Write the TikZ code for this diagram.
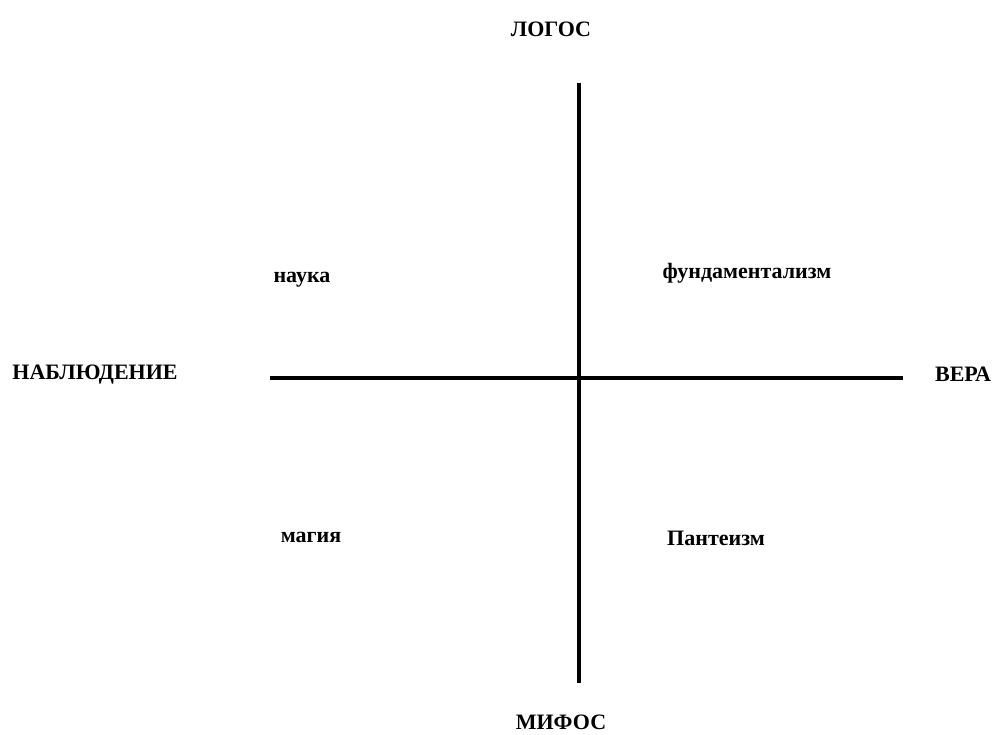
\documentclass[tikz,border=0pt]{standalone}
\usepackage{fontspec}
\setmainfont{Liberation Serif}
\begin{document}
\begin{tikzpicture}[x=1pt,y=-1pt,
  lbl/.style={font=\fontsize{22}{26}\selectfont\bfseries, anchor=base, inner sep=0pt},
  axis/.style={line width=4.5pt}]
\useasboundingbox (0,0) rectangle (998,735);
\coordinate (top) at (579,83);
\coordinate (bot) at (579,683);
\coordinate (left) at (270,378);
\coordinate (right) at (903,378);
\draw[axis] (top) -- (bot);
\draw[axis] (left) -- (right);
\node[lbl] (logos) at (551,37) {ЛОГОС};
\node[lbl] (mifos) at (561,729) {МИФОС};
\node[lbl] (nabl) at (95,379) {НАБЛЮДЕНИЕ};
\node[lbl] (vera) at (963,381) {ВЕРА};
\node[lbl] (nauka) at (302,283) {наука};
\node[lbl] (fund) at (747,278) {фундаментализм};
\node[lbl] (magia) at (311,542) {магия};
\node[lbl] (pant) at (716,545) {Пантеизм};
\end{tikzpicture}
\end{document}
